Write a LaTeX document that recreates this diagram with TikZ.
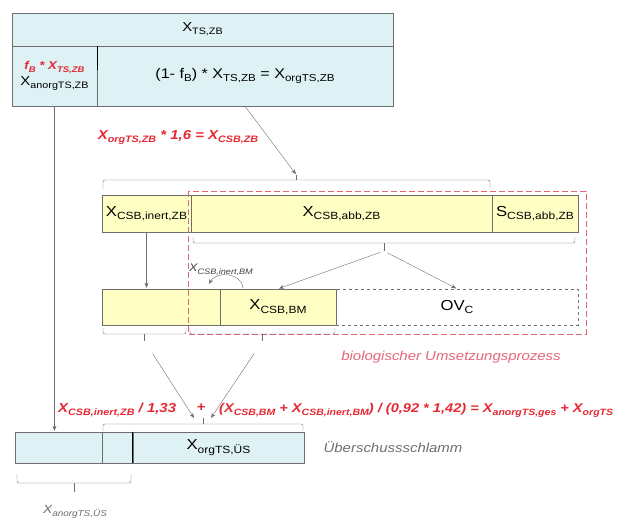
\documentclass[tikz,border=0pt]{standalone}
\usepackage{fontspec}
\setmainfont{Liberation Sans}[FakeStretch=1.15]
\usepackage{graphicx}
\usetikzlibrary{arrows.meta}
\definecolor{boxcyan}{RGB}{222,242,246}
\definecolor{boxyellow}{RGB}{255,255,196}
\definecolor{linegray}{RGB}{110,110,110}
\definecolor{fred}{RGB}{230,40,50}
\definecolor{pinkred}{RGB}{228,100,120}
\newcommand{\idx}[1]{\raisebox{-0.45ex}{\scalebox{0.72}{#1}}}

\begin{document}
\begin{tikzpicture}[x=1pt,y=-1pt,
	cell/.style={draw=linegray,inner sep=0pt,font=\fontsize{14.5}{14.5}\selectfont},
	cyancell/.style={cell,fill=boxcyan},
	yellowcell/.style={cell,fill=boxyellow},
	redtxt/.style={text=fred,inner sep=0pt,font=\fontsize{13}{13}\selectfont\bfseries\itshape},
	graytxt/.style={text=linegray,inner sep=0pt,font=\fontsize{13}{13}\selectfont\itshape},
	brc/.style={draw=linegray,rounded corners=2pt},
	arr/.style={draw=linegray,-{Stealth[length=5pt,width=4pt]}}]
	\useasboundingbox (0,0) rectangle (620,522);
	\node[cyancell,minimum width=381,minimum height=33,font=\fontsize{13}{13}\selectfont] (tszb) at (202.5,29.5) {X\idx{TS,ZB}};
	\node[cyancell,minimum width=85,minimum height=60,align=center] (anorgzb) at (54.5,76) {{\color{fred}\fontsize{11.5}{11.5}\selectfont\bfseries\itshape f\idx{B} * X\idx{TS,ZB}}\\[2pt]{\fontsize{13}{13}\selectfont X\idx{anorgTS,ZB}}};
	\node[cyancell,minimum width=296,minimum height=60,font=\fontsize{14}{14}\selectfont] (orgzb) at (245,76) {(1- f\idx{B}) * X\idx{TS,ZB} = X\idx{orgTS,ZB}};
	\draw[line width=1pt] (anorgzb.north east) -- ++(0,24);
	\node[redtxt] (csbzb) at (178,137) {X\idx{orgTS,ZB} * 1,6 = X\idx{CSB,ZB}};
	\node[yellowcell,minimum width=89,minimum height=37] (inertzb) at (146.5,213.5) {X\idx{CSB,inert,ZB}};
	\node[yellowcell,minimum width=301,minimum height=37] (abbzb) at (341.5,213.5) {X\idx{CSB,abb,ZB}};
	\node[yellowcell,minimum width=86,minimum height=37] (sabbzb) at (535,213.5) {S\idx{CSB,abb,ZB}};
	\draw[brc] (103,189) -- (103,180) -- (490,180) -- (490,189);
	\draw[brc] (296.5,180) -- (296.5,175) coordinate (b0);
	\draw[arr,shorten >=1pt] (orgzb.south) -- (b0);
	\draw[brc] (193,237) -- (193,243) -- (575,243) -- (575,237);
	\draw[brc] (384,243) -- (384,251) coordinate (b1);
	\node[yellowcell,minimum width=118,minimum height=36] (inertbm) at (161,307) {};
	\node[yellowcell,minimum width=116,minimum height=36] (csbbm) at (278,307) {X\idx{CSB,BM}};
	\node[cell,dashed,minimum width=242,minimum height=36] (ovc) at (457,307) {OV\idx{C}};
	\draw[pinkred,dash pattern=on 6pt off 3pt] (188,191) rectangle (586,334);
	\draw[arr,shorten >=1pt] (inertzb.south) -- (inertzb.south |- inertbm.north);
	\draw[arr,shorten <=4pt,shorten >=1pt] (b1) -- (csbbm.north);
	\draw[arr,shorten <=4pt,shorten >=1pt] (b1) -- (ovc.north);
	\coordinate (cfrom) at (243,288);
	\coordinate (cto) at (209,284);
	\draw[arr] (cfrom) .. controls (241,272) and (216,271) .. (cto);
	\node[graytxt,text=black!75,font=\fontsize{11}{11}\selectfont\itshape] (inertbmlbl) at (221,270) {X\idx{CSB,inert,BM}};
	\draw[brc] (103,328) -- (103,334) -- (186,334) -- (186,328);
	\draw[brc] (144.5,334) -- (144.5,341) coordinate (b2);
	\draw[brc] (190,328) -- (190,334) -- (335,334) -- (335,328);
	\draw[brc] (262.5,334) -- (262.5,341) coordinate (b3);
	\node[text=pinkred,font=\fontsize{13}{13}\selectfont\itshape] (bio) at (451,357) {biologischer Umsetzungsprozess};
	\node[cyancell,minimum width=87,minimum height=31] (anorgus) at (58.5,447.5) {};
	\node[cyancell,minimum width=31,minimum height=31] (inertus) at (117.5,447.5) {};
	\node[cyancell,minimum width=171,minimum height=31] (orgus) at (218.5,447.5) {X\idx{orgTS,ÜS}};
	\draw[line width=1pt] (orgus.north west) -- (orgus.south west);
	\node[graytxt] (ueb) at (393,447) {Überschussschlamm};
	\draw[brc] (103,431) -- (103,424) -- (303,424) -- (303,431);
	\draw[brc] (203,424) -- (203,418) coordinate (b4);
	\coordinate (p1) at (194,418);
	\coordinate (p2) at (211,418);
	\draw[arr,shorten <=15pt] (b2) -- (p1);
	\draw[arr,shorten <=15pt] (b3) -- (p2);
	\node[redtxt,anchor=west] (fa) at (58,410) {X\idx{CSB,inert,ZB} / 1,33};
	\node[redtxt] (plus) at (201,408) {+};
	\node[redtxt,anchor=west,font=\fontsize{12.7}{12.7}\selectfont\bfseries\itshape] (fb) at (219,410) {(X\idx{CSB,BM} + X\idx{CSB,inert,BM}) / (0,92 * 1,42) = X\idx{anorgTS,ges} + X\idx{orgTS}};
	\draw[arr,shorten >=1pt] (anorgzb.south) -- (anorgzb.south |- anorgus.north);
	\draw[brc] (17,474) -- (17,483) -- (131,483) -- (131,474);
	\draw[brc] (74,483) -- (74,492) coordinate (b5);
	\node[graytxt,font=\fontsize{12}{12}\selectfont\itshape,anchor=north] (anorguslbl) at (75,505) {X\idx{anorgTS,ÜS}};
\end{tikzpicture}
\end{document}
